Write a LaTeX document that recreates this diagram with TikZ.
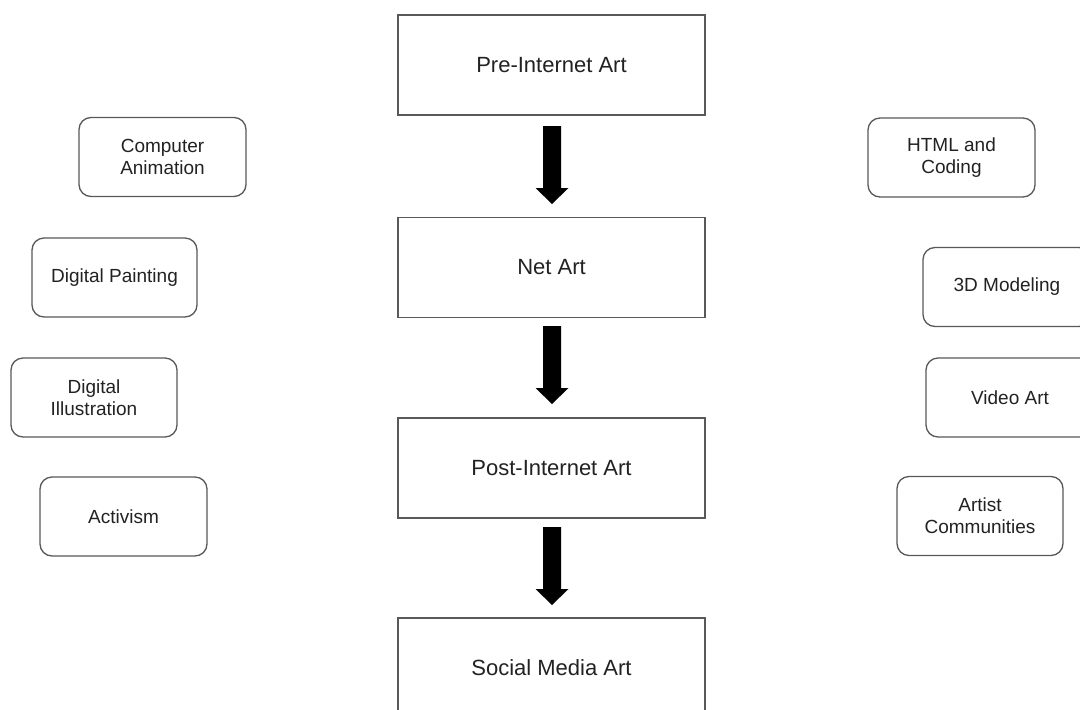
\documentclass[tikz,border=0pt]{standalone}
\usepackage{fontspec}
\setmainfont{Liberation Sans}
\definecolor{boxline}{HTML}{595959}
\definecolor{txt}{HTML}{222222}
\tikzset{
  x=1pt, y=-1pt,
  mainbox/.style={draw=boxline, line width=1.3pt, fill=white, minimum width=307pt, minimum height=100pt, inner sep=0pt, font=\fontsize{22}{25}\selectfont, text=txt, align=center},
  sidebox/.style={draw=boxline, line width=1.3pt, fill=white, rounded corners=12pt, minimum height=79pt, inner sep=0pt, font=\fontsize{19}{22}\selectfont, text=txt, align=center},
  blockarrow/.pic={\fill[black] (-9,0) -- (9,0) -- (9,62) -- (16.5,62) -- (0,78) -- (-16.5,62) -- (-9,62) -- cycle;}
}
\begin{document}
\begin{tikzpicture}
\useasboundingbox (0,0) rectangle (1080,710);
\clip (0,0) rectangle (1080,710);
\fill[white] (0,0) rectangle (1080,710);
% main column
\node[mainbox] (pre) at (551.5,65) {Pre-Internet Art};
\node[mainbox] (net) at (551.5,267.5) {Net Art};
\node[mainbox] (post) at (551.5,468) {Post-Internet Art};
\node[mainbox] (social) at (551.5,668) {Social Media Art};
% arrows
\coordinate (a1) at (552,126);
\coordinate (a2) at (552,326);
\coordinate (a3) at (552,527);
\pic at (a1) {blockarrow};
\pic at (a2) {blockarrow};
\pic at (a3) {blockarrow};
% left boxes
\node[sidebox, minimum width=167pt] (anim) at (162.5,157) {Computer\\Animation};
\node[sidebox, minimum width=165pt] (paint) at (114.5,277.5) {Digital Painting};
\node[sidebox, minimum width=166pt] (illus) at (94,397.5) {Digital\\Illustration};
\node[sidebox, minimum width=167pt] (activ) at (123.5,516.5) {Activism};
% right boxes
\node[sidebox, minimum width=167pt] (html) at (951.5,157.5) {HTML and\\Coding};
\node[sidebox, minimum width=168pt] (model) at (1007,287) {3D Modeling};
\node[sidebox, minimum width=168pt] (video) at (1010,397.5) {Video Art};
\node[sidebox, minimum width=166pt] (artist) at (980,516) {Artist\\Communities};
\end{tikzpicture}
\end{document}
